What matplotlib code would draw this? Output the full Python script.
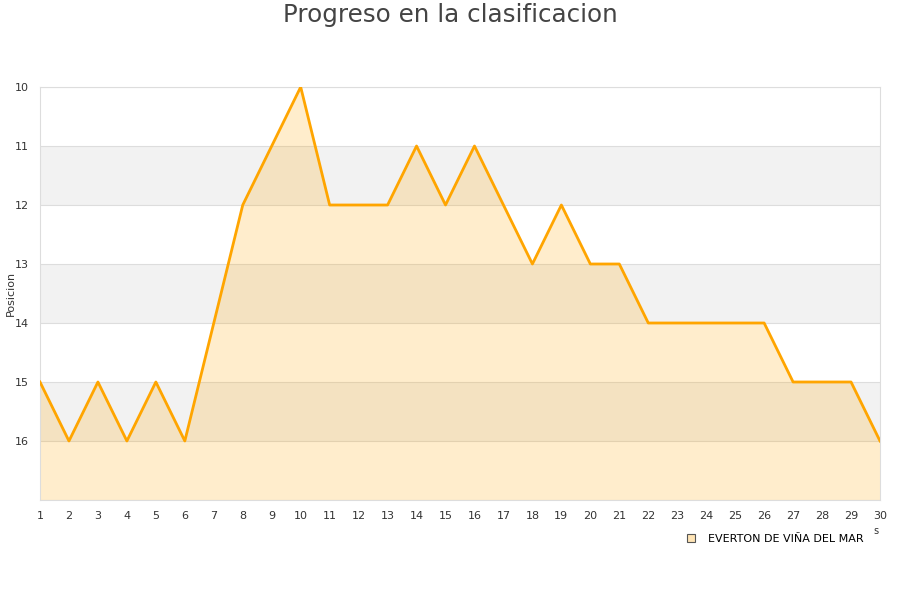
import numpy as np
import matplotlib
matplotlib.use('Agg')
import matplotlib.pyplot as plt
from matplotlib.lines import Line2D

# data
jornadas = list(range(1, 31))
posicion = [15, 16, 15, 16, 15, 16, 14, 12, 11, 10,
            12, 12, 12, 11, 12, 11, 12, 13, 12, 13,
            13, 14, 14, 14, 14, 14, 15, 15, 15, 16]
equipo = 'EVERTON DE VIÑA DEL MAR'
y_ticks = [10, 11, 12, 13, 14, 15, 16]

fig = plt.figure(figsize=(9, 6), dpi=100)
ax = fig.add_axes([40/900, 1-500/600, 840/900, 413/600])

# alternating bands
for lo in (11, 13, 15):
    ax.axhspan(lo, lo+1, color='#f2f2f2', zorder=0, lw=0)
for y in range(10, 18):
    ax.axhline(y, color='#dddddd', lw=0.8, zorder=1)

ax.fill_between(jornadas, posicion, 17, color='#ffa500', alpha=0.2, lw=0, zorder=2)
ax.plot(jornadas, posicion, color='#ffa500', lw=2, zorder=3)

ax.set_xlim(1, 30)
ax.set_ylim(17, 10)
ax.set_xticks(jornadas)
ax.set_yticks(y_ticks)
ax.tick_params(length=0, labelsize=8, colors='#333333', pad=8)
for s in ax.spines.values():
    s.set_color('#dddddd')
ax.set_ylabel('Posicion', fontsize=8, color='#333333')
ax.yaxis.set_label_coords(-24/840, 0.5)

fig.text(0.5, 1-15/600, 'Progreso en la clasificacion', ha='center', va='center',
         fontsize=17.7, color='#444444')
fig.text(876/900, 1-531/600, 's', ha='center', va='center', fontsize=7, color='#333333')

handle = Line2D([], [], marker='s', ls='', markersize=6,
                markerfacecolor='#ffe4b5', markeredgecolor='#555555', markeredgewidth=0.8)
fig.legend([handle], [equipo], loc='center right', bbox_to_anchor=(868/900, 1-539/600),
           frameon=False, fontsize=8, handletextpad=0.5, borderaxespad=0)

fig.savefig('out.png', dpi=100)
